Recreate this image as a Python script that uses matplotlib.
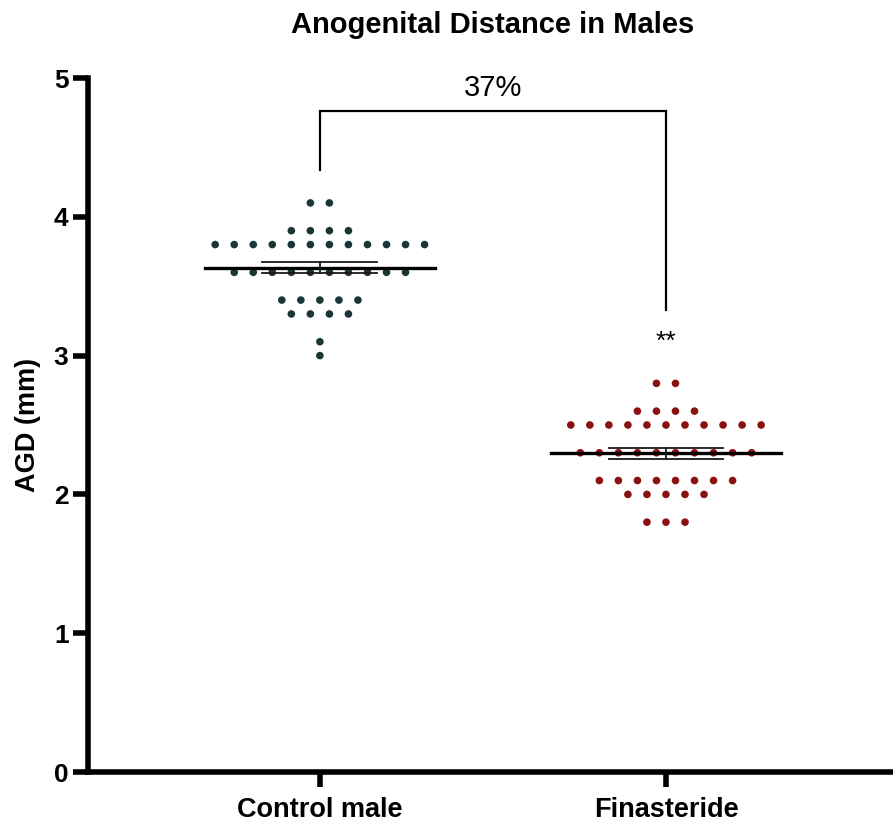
import numpy as np
import matplotlib.pyplot as plt

plt.rcParams['font.family'] = ['Liberation Sans', 'DejaVu Sans']

# data: value levels and number of animals per level
groups = ["Control male", "Finasteride"]
control_levels = [4.1, 3.9, 3.8, 3.6, 3.4, 3.3, 3.1, 3.0]
control_counts = [2, 4, 12, 10, 5, 4, 1, 1]
fin_levels = [2.8, 2.6, 2.5, 2.3, 2.1, 2.0, 1.8]
fin_counts = [2, 4, 11, 10, 8, 5, 3]
colors = ["#1a3636", "#8b1111"]
percent_label = "37%"
sig_label = "**"


def expand(levels, counts):
    return np.repeat(levels, counts)


def swarm_x(center, levels, counts, step=0.055):
    xs = []
    for n in counts:
        xs.extend(center + (np.arange(n) - (n - 1) / 2) * step)
    return np.array(xs)


fig = plt.figure(figsize=(8.93, 8.27), dpi=100)
ax = fig.add_axes([88 / 893, 1 - 772 / 827, 1 - 88 / 893, (772 - 78) / 827])

data = [(control_levels, control_counts), (fin_levels, fin_counts)]
for i, (levels, counts) in enumerate(data):
    y = expand(levels, counts)
    x = swarm_x(i, levels, counts)
    ax.scatter(x, y, s=30, color=colors[i], edgecolors='none', zorder=3)
    mean = y.mean()
    sem = y.std(ddof=1) / np.sqrt(len(y))
    ax.plot([i - 0.333, i + 0.333], [mean, mean], color='black', lw=2.4, zorder=4)
    for v in (mean - sem, mean + sem):
        ax.plot([i - 0.166, i + 0.166], [v, v], color='#1a1a1a', lw=1.3, zorder=4)
    ax.plot([i, i], [mean - sem, mean + sem], color='#1a1a1a', lw=1.3, zorder=4)

# bracket with percent change
ax.plot([0, 0, 1, 1], [4.34, 4.76, 4.76, 3.33], color='black', lw=1.6,
        solid_joinstyle='miter', clip_on=False)
ax.text(0.5, 4.93, percent_label, ha='center', va='center', fontsize=21)
ax.text(1, 3.10, sig_label, ha='center', va='center', fontsize=19)

ax.set_xlim(-0.67, 1.656)
ax.set_ylim(0, 5)
ax.set_yticks([0, 1, 2, 3, 4, 5])
ax.set_xticks([0, 1])
ax.set_xticklabels(groups, fontsize=19.5, fontweight='bold')
for lab in ax.get_yticklabels():
    lab.set_fontsize(19)
    lab.set_fontweight('bold')
ax.tick_params(width=4, length=11, pad=3)
ax.tick_params(axis='x', pad=7)
for side in ('top', 'right'):
    ax.spines[side].set_visible(False)
for side in ('left', 'bottom'):
    ax.spines[side].set_linewidth(4)
ax.set_ylabel("AGD (mm)", fontsize=19.5, fontweight='bold', labelpad=9)

fig.text(493 / 893, 1 - 25 / 827, "Anogenital Distance in Males",
         ha='center', va='center', fontsize=21, fontweight='bold')

fig.savefig("out.png", dpi=100)
